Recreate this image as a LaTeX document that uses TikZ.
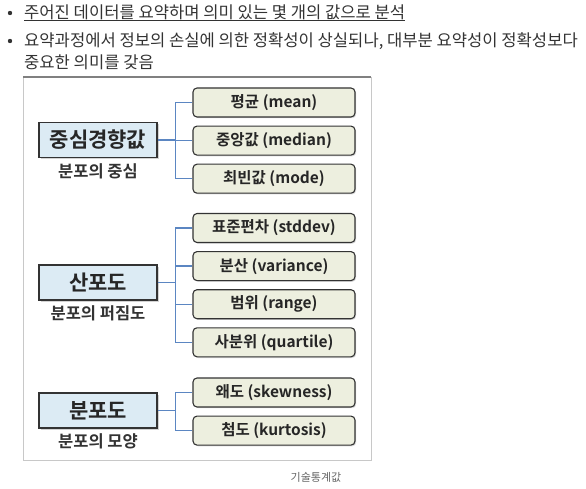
\documentclass[tikz,border=0pt]{standalone}
\usepackage{fontspec}
\setmainfont{Noto Sans CJK KR}[BoldFont={Noto Sans CJK KR Bold}]
\usepackage{tikz}
\usetikzlibrary{positioning,shadows}

\definecolor{txtgray}{HTML}{333333}
\definecolor{capgray}{HTML}{666666}
\definecolor{boxblue}{HTML}{DCEBF4}
\definecolor{boxbeige}{HTML}{EDEFDF}
\definecolor{linkblue}{HTML}{5B86C2}
\definecolor{framegray}{HTML}{C8C8C8}

\tikzset{
	bodytext/.style={anchor=base west,inner sep=0pt,text=txtgray,font=\fontsize{16.6}{19}\selectfont},
	mainbox/.style={draw=black!80,line width=1.2pt,fill=boxblue,minimum width=118pt,minimum height=35pt,
		font=\bfseries\fontsize{21}{23}\selectfont,text=black!85,
		drop shadow={shadow xshift=1.5pt,shadow yshift=-1.5pt,opacity=0.35}},
	subbox/.style={draw=black!80,line width=1.1pt,fill=boxbeige,rounded corners=4pt,minimum width=162pt,minimum height=29pt,
		inner ysep=0pt,font=\bfseries\fontsize{15.5}{17}\selectfont,text=black!85,
		drop shadow={shadow xshift=1.2pt,shadow yshift=-1.2pt,opacity=0.3}},
	subtitle/.style={font=\bfseries\fontsize{16.5}{18}\selectfont,text=black!80},
	conn/.style={draw=linkblue,line width=1.3pt},
}

\begin{document}
\begin{tikzpicture}[x=1pt,y=-1pt]
	\useasboundingbox (0,0) rectangle (586,489);
	% bullet list above the figure
	\fill[txtgray] (10,13) circle (2.2pt) (10,41) circle (2.2pt);
	\node(l1) [bodytext] at (24,19) {주어진 데이터를 요약하며 의미 있는 몇 개의 값으로 분석};
	\draw[txtgray,line width=0.8pt] ([yshift=-1.5pt]l1.base west) -- ([yshift=-1.5pt]l1.base east);
	\node(l2) [bodytext] at (24,46.5) {요약과정에서 정보의 손실에 의한 정확성이 상실되나, 대부분 요약성이 정확성보다};
	\node(l3) [bodytext] at (24,68.5) {중요한 의미를 갖음};
	% figure frame
	\draw[framegray,line width=0.8pt] (23,77) rectangle (371,460);
	\draw[gray,line width=2.5pt] (23,77) -- (371,77);
	% central tendency
	\node(m1) [mainbox] at (98,140) {중심경향값};
	\node(t1) [subtitle,below=2pt of m1] {분포의 중심};
	\node(s11) [subbox] at (274,102.5) {평균 (mean)};
	\node(s12) [subbox,below=8pt of s11] {중앙값 (median)};
	\node(s13) [subbox,below=8pt of s12] {최빈값 (mode)};
	% dispersion
	\node(m2) [mainbox] at (98,282.5) {산포도};
	\node(t2) [subtitle,below=2pt of m2] {분포의 퍼짐도};
	\node(s21) [subbox] at (274,228) {표준편차 (stddev)};
	\node(s22) [subbox,below=8pt of s21] {분산 (variance)};
	\node(s23) [subbox,below=8pt of s22] {범위 (range)};
	\node(s24) [subbox,below=8pt of s23] {사분위 (quartile)};
	% shape
	\node(m3) [mainbox] at (98,410.5) {분포도};
	\node(t3) [subtitle,below=2pt of m3] {분포의 모양};
	\node(s31) [subbox] at (274,392.5) {왜도 (skewness)};
	\node(s32) [subbox,below=8pt of s31] {첨도 (kurtosis)};
	% connectors
	\coordinate (j1) at ([xshift=18pt]m1.east);
	\coordinate (j2) at ([xshift=18pt]m2.east);
	\coordinate (j3) at ([xshift=18pt]m3.east);
	\draw[conn] (m1.east) -- (j1) (m2.east) -- (j2) (m3.east) -- (j3);
	\foreach \s in {s11,s12,s13} \draw[conn] (j1) |- (\s.west);
	\foreach \s in {s21,s22,s23,s24} \draw[conn] (j2) |- (\s.west);
	\foreach \s in {s31,s32} \draw[conn] (j3) |- (\s.west);
	% caption
	\node(cap) [text=capgray,font=\fontsize{11}{13}\selectfont] at (316,477) {기술통계값};
\end{tikzpicture}
\end{document}
